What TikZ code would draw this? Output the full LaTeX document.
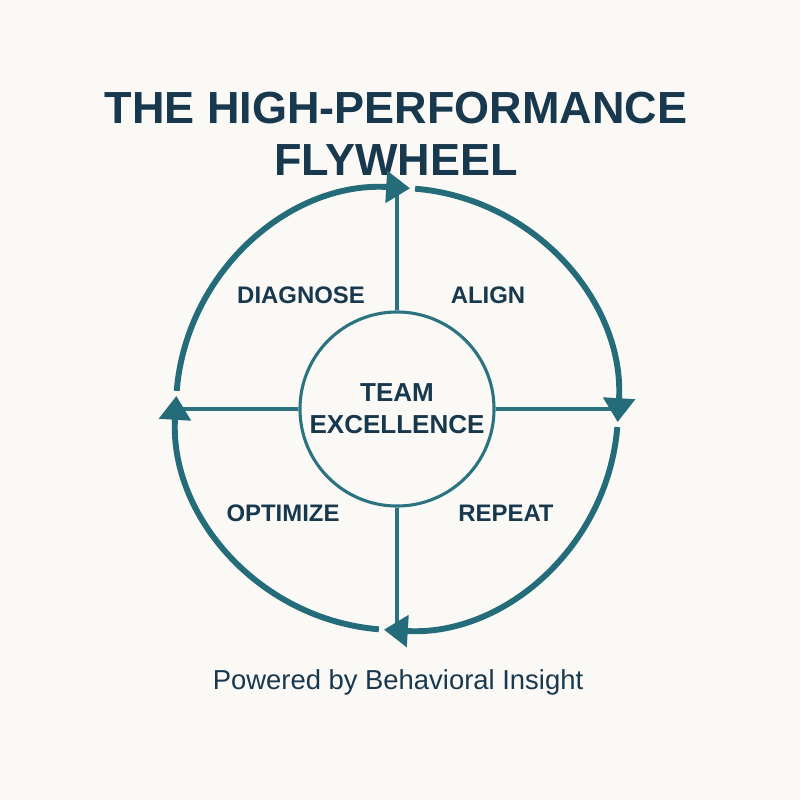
\documentclass[tikz,border=0pt]{standalone}
\usepackage{xcolor}
\usepackage{fontspec}
\setmainfont{Liberation Sans}
\usetikzlibrary{arrows.meta,positioning,calc}
\definecolor{fwPaper}{RGB}{250,249,246}
\definecolor{fwNavy}{RGB}{24,56,78}
\definecolor{fwTeal}{RGB}{37,108,122}
\definecolor{fwSpoke}{RGB}{44,115,128}
\colorlet{paper}{fwPaper}
\colorlet{navy}{fwNavy}
\colorlet{teal}{fwTeal}
\colorlet{spokecol}{fwSpoke}

\begin{document}
\begin{tikzpicture}[x=0.025cm,y=0.025cm,>=Latex,
  flow/.style={draw=teal,line width=4.2pt,-{Triangle[length=17pt,width=22pt]}},
  spoke/.style={draw=spokecol,line width=2.2pt},
  phase/.style={text=navy,font=\bfseries\fontsize{17}{20}\selectfont}]
\fill[paper] (0,0) rectangle (800,-800);
\def\R{5.525cm}
\coordinate (c) at (397,-409);
\node[text=navy,align=center,font=\bfseries\fontsize{32}{37}\selectfont] (title) at (396,-134) {THE HIGH-PERFORMANCE\\FLYWHEEL};
\node[draw=spokecol,line width=2.2pt,circle,minimum size=4.85cm,inner sep=0pt,fill=paper,text=navy,align=center,font=\bfseries\fontsize{18.5}{22.8}\selectfont] (hub) at (c) {TEAM\\EXCELLENCE};
\coordinate (ntop) at ([shift={(90:\R)}]c);
\coordinate (neast) at ([shift={(0:\R)}]c);
\coordinate (nbot) at ([shift={(270:\R)}]c);
\coordinate (nwest) at ([shift={(180:\R)}]c);
\draw[spoke] (hub) -- (ntop);
\draw[spoke] (hub) -- (neast);
\draw[spoke] (hub) -- (nbot);
\draw[spoke] (hub) -- (nwest);
% the four turns of the wheel, clockwise
\draw[flow] ([shift={(175.3:\R)}]c) arc[start angle=175.3,end angle=86.6,radius=\R];
\draw[flow] ([shift={(85.3:\R)}]c) arc[start angle=85.3,end angle=-3.4,radius=\R];
\draw[flow] ([shift={(-4.7:\R)}]c) arc[start angle=-4.7,end angle=-93.4,radius=\R];
\draw[flow] ([shift={(-94.7:\R)}]c) arc[start angle=-94.7,end angle=-183.4,radius=\R];
\node[phase] (diagnose) at (301,-295) {DIAGNOSE};
\node[phase] (align) at (488,-295) {ALIGN};
\node[phase] (optimize) at (283,-513) {OPTIMIZE};
\node[phase] (repeat) at (506,-513) {REPEAT};
\node[text=navy,font=\fontsize{19.5}{23}\selectfont] (footer) at (398,-682) {Powered by Behavioral Insight};
\end{tikzpicture}
\end{document}
